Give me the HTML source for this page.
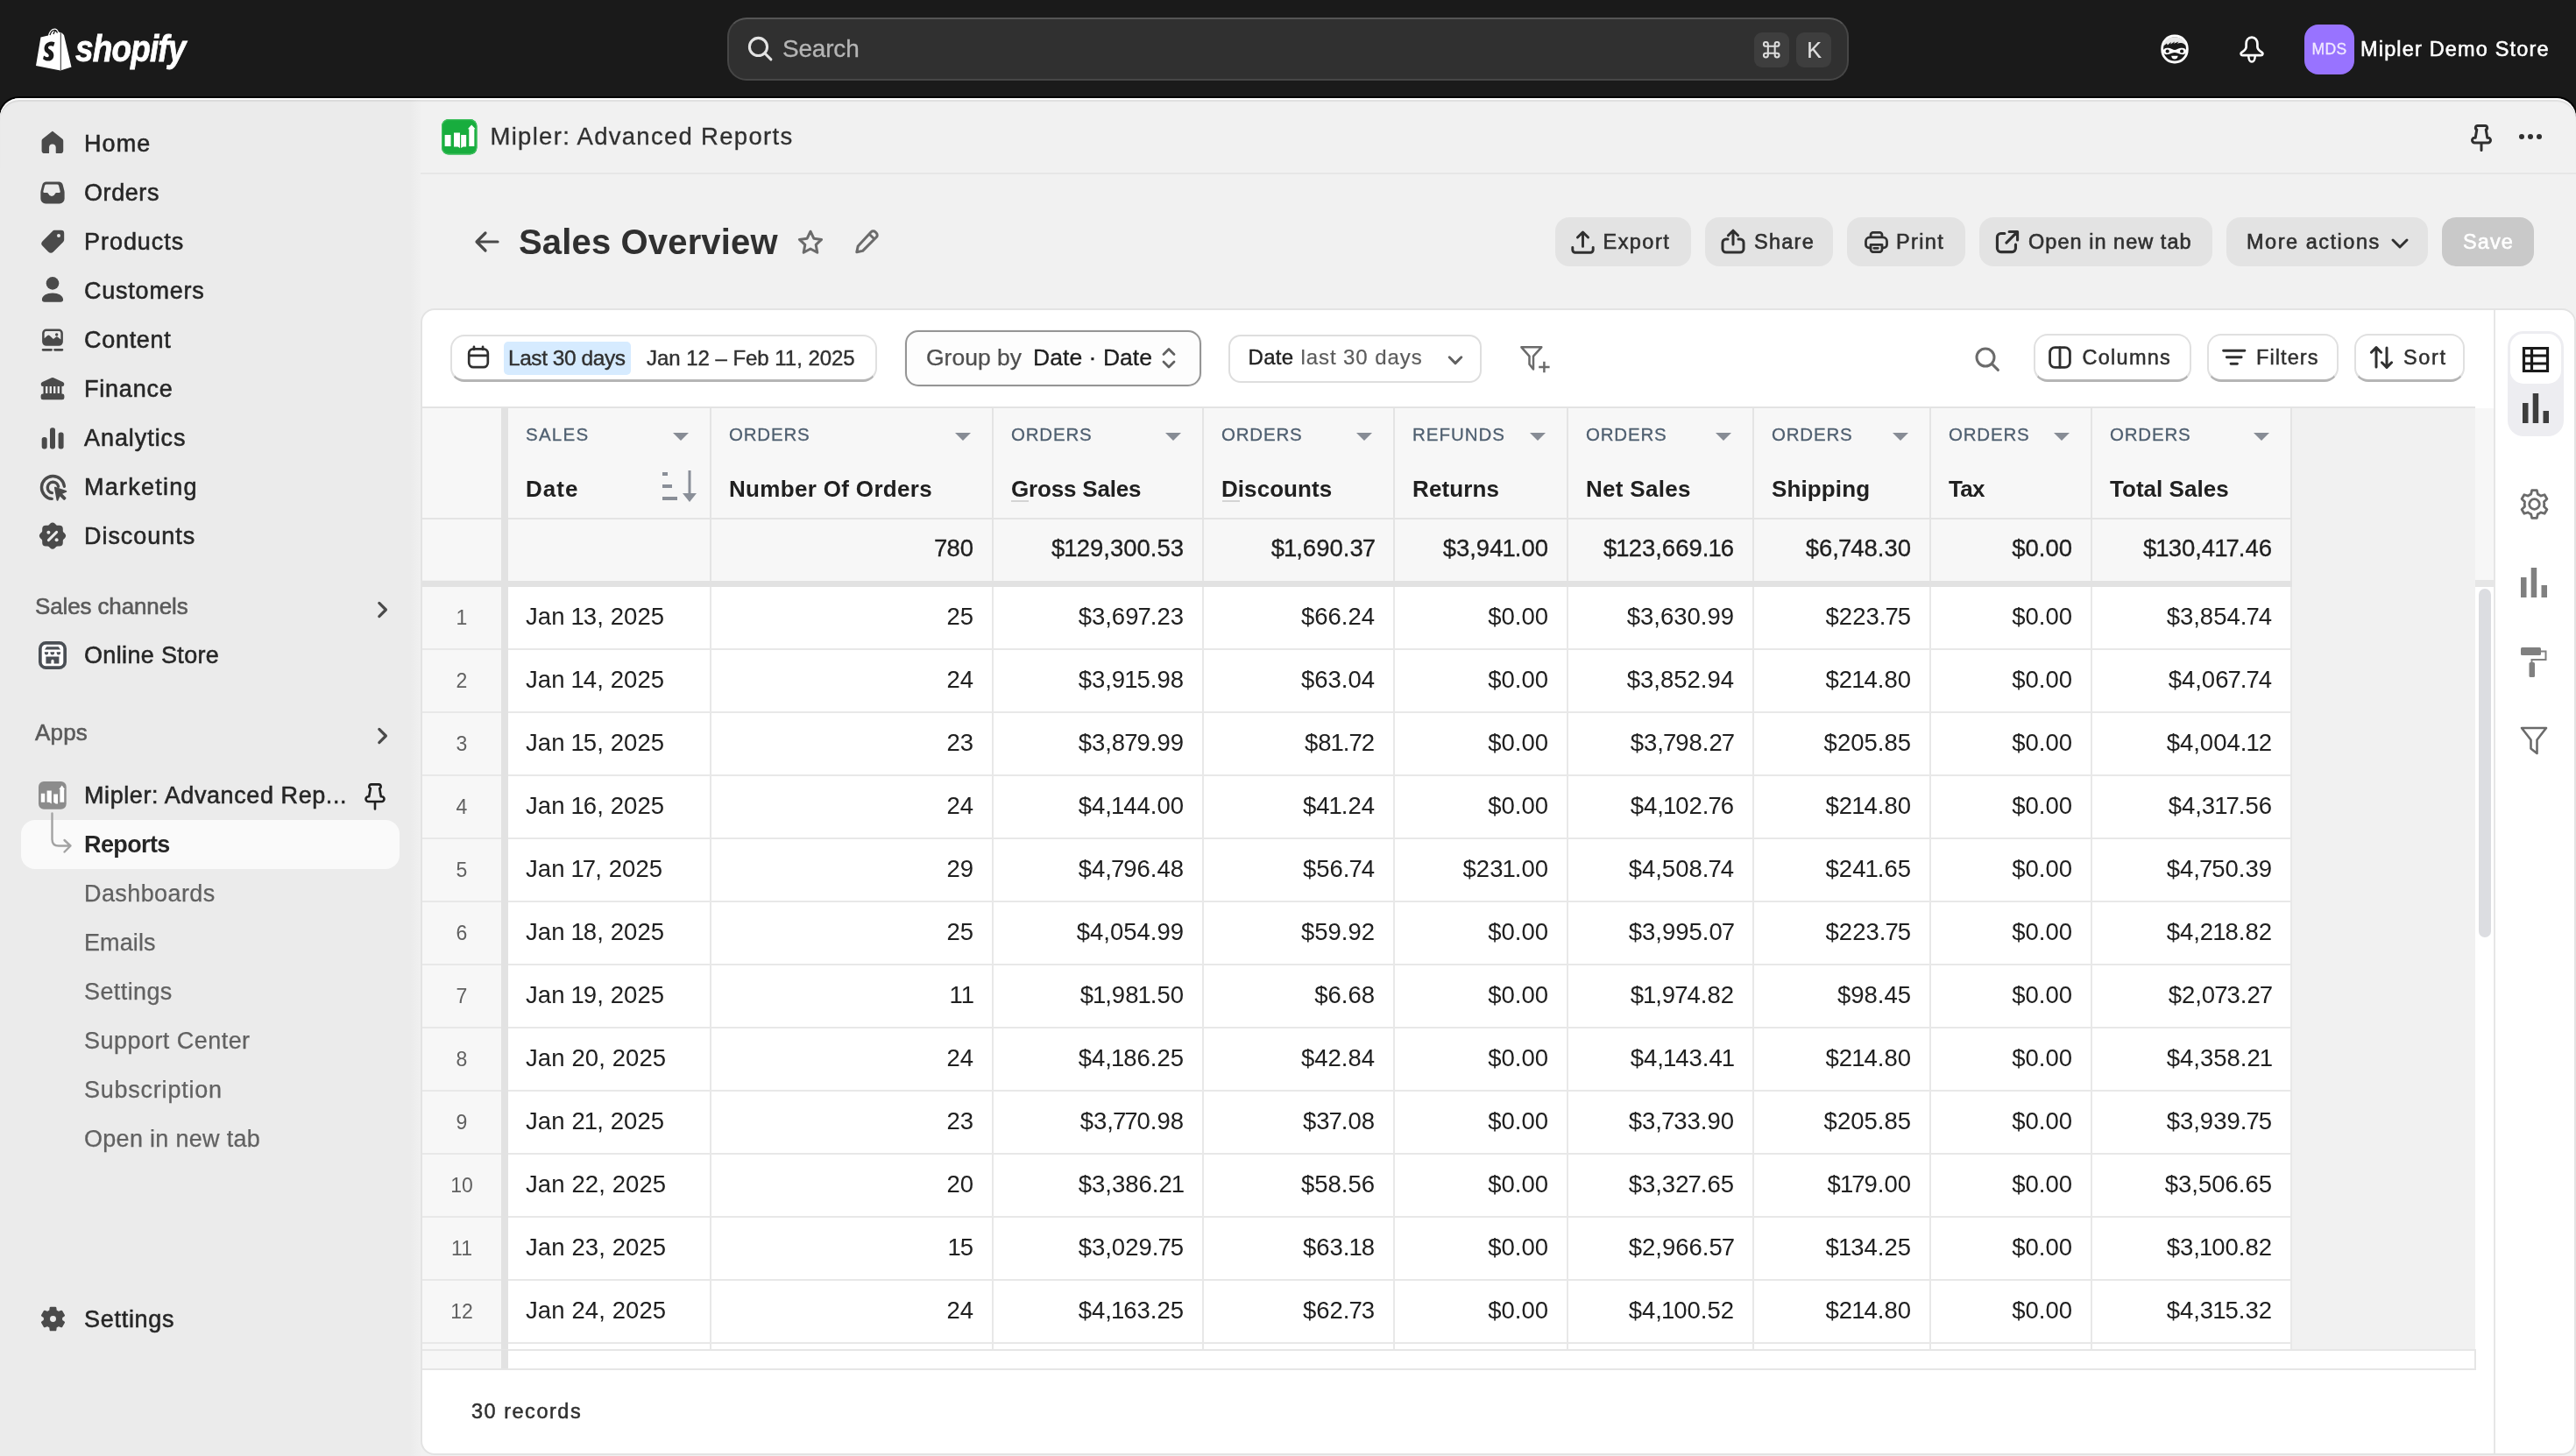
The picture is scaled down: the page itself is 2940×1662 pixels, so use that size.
<!DOCTYPE html>
<html><head><meta charset="utf-8"><title>Sales Overview</title>
<style>
*{box-sizing:border-box;margin:0;padding:0}
html,body{width:2940px;height:1662px;overflow:hidden;background:#1a1a1a;font-family:"Liberation Sans",sans-serif;color:#303030}
@media (max-width:1600px){html{zoom:.5}}
.abs{position:absolute}
.t{white-space:nowrap;display:inline-block}
svg{display:block;overflow:visible}
#top{position:absolute;left:0;top:0;width:2940px;height:112px;background:#1a1a1a}
#frame{position:absolute;left:0;top:112px;width:2940px;height:1550px;background:#f1f1f1;border-radius:22px 22px 0 0;overflow:hidden;box-shadow:0 0 0 2px #000}
#side{position:absolute;left:0;top:0;width:480px;height:1550px;background:linear-gradient(90deg,#ebebeb 0,#ebebeb 468px,#f0f0f0 480px)}
.nav{height:40px;line-height:40px;font-size:27px;color:#262626;-webkit-text-stroke:.55px #262626}
.sub{height:40px;line-height:40px;font-size:27px;color:#616161;-webkit-text-stroke:.25px #616161}
.sec{height:36px;line-height:36px;font-size:26px;color:#5a5a5a;-webkit-text-stroke:.55px #5a5a5a}
.btn{position:absolute;top:248px;height:56px;border-radius:16px;background:#e3e3e3;font-size:23.5px;line-height:56px;color:#303030;-webkit-text-stroke:.6px #303030}
.tb{position:absolute;background:#fff;border-radius:16px;font-size:23.5px;color:#303030}
.hc{position:absolute;top:0;height:126px;border-right:2px solid #e4e4e4}
.hg{position:absolute;left:20px;top:18px;font-size:20.5px;line-height:24px;color:#4f5f70;-webkit-text-stroke:.3px #4f5f70}
.hl{position:absolute;left:20px;top:74.5px;font-size:26px;line-height:34px;color:#202020;font-weight:bold}
.tri{position:absolute;top:28px;width:0;height:0;border-left:9.5px solid transparent;border-right:9.5px solid transparent;border-top:9.5px solid #878c95}
.row{position:absolute;left:0;height:72px;width:2132px}
.c{position:absolute;top:0;height:72px;border-right:2px solid #e8e8e8;border-bottom:2px solid #e8e8e8;background:#fff;font-size:27.5px;line-height:68.5px;color:#202020;text-align:right;padding:0 21px 0 0;white-space:nowrap}
.c i{font-style:normal;margin:0 -1px}
.c.l{text-align:left;padding:0 0 0 20px;letter-spacing:.1px}
.tot .c{background:#f7f7f7;border-bottom:none;-webkit-text-stroke:.3px #202020;height:71px;line-height:66.5px;border-right-color:#e4e4e4}
.rn{position:absolute;left:0;width:90px;height:72px;background:#f7f7f7;border-bottom:2px solid #e8e8e8;font-size:23px;line-height:70px;color:#616161;text-align:center}
</style></head><body style="will-change:transform">

<div id="top">
<svg class="abs" style="left:40px;top:31px" width="42" height="50" viewBox="0 0 42 50" ><path d="M6.5 11.5 L15 9.5 C16 5 19 1.5 22.5 1.5 C24.5 1.5 26 3 27 5.5 L30.5 6.5 L33 9 L41.5 45.5 L29 49.5 L1 44 Z" fill="#fff"/>
<path d="M29.3 6.2 V49.3" stroke="#1a1a1a" stroke-width="0.9"/>
<path d="M17 9 C18 5.5 20 3.3 22.4 3.3 C23.8 3.3 24.8 4.6 25.4 6.6 M21 8 C21.6 5.4 22.8 4.2 24 4.2" fill="none" stroke="#1a1a1a" stroke-width="1.3"/>
<path d="M22.5 17.5 L21 22 C20 21.5 18.8 21.2 17.6 21.3 C15 21.5 15 23.1 15 23.5 C15.2 25.7 21 26.2 21.3 31.4 C21.6 35.5 19.1 38.3 15.6 38.5 C11.4 38.8 9.1 36.3 9.1 36.3 L10 32.5 C10 32.500 12.3 34.3 14.200 34.200 C15.400 34.100 15.9 33.100 15.800 32.400 C15.600 29.500 10.900 29.700 10.600 25 C10.300 21 12.900 17 18.700 16.600 C21 16.500 22.500 17.500 22.500 17.500 Z" fill="#1a1a1a"/></svg>
<div class="abs" style="left:86px;top:29px;font-size:43px;line-height:52px;font-weight:bold;font-style:italic;color:#fff;letter-spacing:-1px;transform:scaleX(.86);transform-origin:0 0;-webkit-text-stroke:.8px #fff"><span class="t" id="shopify">shopify</span></div>
<div class="abs" style="left:830px;top:20px;width:1280px;height:72px;border-radius:22px;background:#303030;border:2px solid #464646;border-top-color:#555"></div>
<svg class="abs" style="left:850px;top:38px" width="36" height="36" viewBox="0 0 20 20" ><circle cx="8.6" cy="8.6" r="5.6" fill="none" stroke="#e3e3e3" stroke-width="1.7"/><path d="M12.8 12.8 16.6 16.6" stroke="#e3e3e3" stroke-width="1.7" stroke-linecap="round"/></svg>
<div class="abs" style="left:893px;top:36px;font-size:28px;line-height:40px;color:#b5b5b5;-webkit-text-stroke:.3px #b5b5b5"><span class="t " id="search" style=";letter-spacing:-0.200px">Search</span></div>
<div class="abs" style="left:2001.5px;top:36.7px;width:40px;height:40.5px;border-radius:9px;background:#3e3e3e"></div>
<div class="abs" style="left:2050px;top:36.7px;width:40px;height:40.5px;border-radius:9px;background:#3e3e3e"></div>
<svg class="abs" style="left:2010.4px;top:44.6px" width="23.5" height="23.5" viewBox="0 0 24 24" ><path d="M8 8V5.5A2.5 2.5 0 1 0 5.500 8H8ZM8 8H16M8 8V16M16 8H18.500A2.500 2.500 0 1 0 16 5.500V8ZM16 8V16M16 16H8M16 16V18.500A2.500 2.500 0 1 0 18.500 16H16ZM8 16H5.500A2.500 2.500 0 1 0 8 18.500V16Z" fill="none" stroke="#dcdcdc" stroke-width="2.1"/></svg>
<div class="abs" style="left:2050px;top:37px;width:41px;height:40px;line-height:40px;text-align:center;font-size:25px;color:#e0e0e0;-webkit-text-stroke:.2px #e0e0e0">K</div>
<svg class="abs" style="left:2466px;top:39px" width="32" height="34" viewBox="0 0 32 34" ><rect x="1.700" y="2" width="28.600" height="30" rx="13.600" ry="14.300" fill="#1a1a1a" stroke="#fff" stroke-width="2.800"/>
<path d="M3.200 13.500C3.500 7 9 3.200 16 3.200C23 3.200 28.500 7 28.800 13.500L27 11.600C24.500 9.800 21.500 9.800 18.800 10.700L20.500 8.600L15 10.800L16 8.400L11.300 11.400L11.800 9L7.800 12.600L7 10.600Z" fill="#e8e8e8"/>
<path d="M2.800 19.400C2.800 16.200 6 15.200 9 15.800C12 16.400 14 18 16 18C18 18 20 16.400 23 15.800C26 15.200 29.200 16.200 29.200 19.400C29.200 22.600 26.500 23.600 23.500 23C20.500 22.400 18.500 21 16 21C13.500 21 11.500 22.400 8.500 23C5.500 23.600 2.800 22.600 2.800 19.400Z" fill="#fff"/>
<circle cx="7.700" cy="19.500" r="2.100" fill="#1a1a1a"/><circle cx="24.100" cy="19.500" r="2.100" fill="#1a1a1a"/>
<path d="M12.200 24.800H19.600C19.600 27 18 28.600 15.900 28.600C13.800 28.600 12.200 27 12.200 24.800Z" fill="#fff"/></svg>
<svg class="abs" style="left:2555px;top:41px" width="30" height="32" viewBox="0 0 30 32" ><path d="M15 1.600C10.800 1.600 8.600 5 8.600 9V12.500C8.600 15.500 6 17 3.600 18.600C1.600 20 2.600 22.200 4.600 22.200H25.400C27.400 22.200 28.400 20 26.400 18.600C24 17 21.400 15.500 21.400 12.500V9C21.400 5 19.200 1.600 15 1.600Z" fill="none" stroke="#fff" stroke-width="2.700" stroke-linejoin="round"/><path d="M11.300 23C11.300 27 13 29.500 15 29.500C17 29.500 18.700 27 18.700 23" fill="none" stroke="#fff" stroke-width="2.500"/></svg>
<div class="abs" style="left:2630px;top:27.500px;width:57px;height:57px;border-radius:16px;background:#9873ff;color:#f1e9ff;font-size:17.5px;line-height:57px;text-align:center;-webkit-text-stroke:.3px #f1e9ff;letter-spacing:.3px">MDS</div>
<div class="abs" style="left:2694px;top:36px;font-size:23.5px;line-height:40px;color:#fff;-webkit-text-stroke:.55px #fff"><span class="t " id="store" style=";letter-spacing:1.169px">Mipler Demo Store</span></div>
</div>
<div id="frame">
<div id="side">
<svg class="abs" style="left:40px;top:31.5px" width="40" height="40" viewBox="0 0 20 20" ><path transform="translate(9.95 9.2) scale(.85) translate(-10 -9.8)" d="M10 2.9 16.3 7.9a1.2 1.2 0 0 1 .45.95v6.4a1.5 1.5 0 0 1-1.5 1.5h-2.5v-3.5a2.75 2.75 0 0 0-5.5 0v3.5h-2.5a1.5 1.5 0 0 1-1.5-1.5v-6.4a1.2 1.2 0 0 1 .45-.95z" fill="#4a4a4a" stroke="#4a4a4a" stroke-width="1" stroke-linejoin="round"/></svg><div class="abs nav" style="left:96px;top:31.5px"><span class="t " id="nav_home" style=";letter-spacing:1.100px">Home</span></div>
<svg class="abs" style="left:40px;top:87.5px" width="40" height="40" viewBox="0 0 20 20" ><path transform="translate(10 10) scale(.96) translate(-10 -10)" fill-rule="evenodd" d="M6.3 3.500h7.400a2.500 2.500 0 0 1 2.400 1.850l.85 3.300c.1.400.15.800.15 1.200v3.650a3 3 0 0 1-3 3h-8.200a3 3 0 0 1-3-3v-3.650c0-.4.050-.8.150-1.200l.85-3.300a2.500 2.500 0 0 1 2.400-1.850zM6.300 5a1 1 0 0 0-.950.740l-.900 3.500c-.1.400.15.760.550.760h1.600c.45 0 .8.300.950.700a2.050 2.050 0 0 0 3.900 0c.150-.4.500-.7.950-.7h1.600c.4 0 .65-.36.550-.76l-.9-3.500a1 1 0 0 0-.950-.740z" fill="#4a4a4a"/></svg><div class="abs nav" style="left:96px;top:87.5px"><span class="t " id="nav_orders" style=";letter-spacing:0.580px">Orders</span></div>
<svg class="abs" style="left:40px;top:143.5px" width="40" height="40" viewBox="0 0 20 20" ><path fill-rule="evenodd" d="M11.4 3.4h3.5a1.7 1.7 0 0 1 1.7 1.7v3.5c0 .6-.24 1.2-.67 1.6l-5.5 5.5a2 2 0 0 1-2.83 0l-3.3-3.3a2 2 0 0 1 0-2.83l5.5-5.5c.43-.43 1-.67 1.6-.67zm2.1 2.1a1 1 0 1 0 0 2 1 1 0 0 0 0-2z" fill="#4a4a4a"/></svg><div class="abs nav" style="left:96px;top:143.5px"><span class="t " id="nav_products" style=";letter-spacing:0.957px">Products</span></div>
<svg class="abs" style="left:40px;top:199.5px" width="40" height="40" viewBox="0 0 20 20" ><circle cx="10" cy="5.7" r="3.65" fill="#4a4a4a"/><path d="M3.95 15.1c0-2.3 2.7-3.85 6.050-3.850s6.050 1.550 6.050 3.850c0 .75-.6 1.25-1.4 1.25h-9.3c-.8 0-1.4-.5-1.4-1.25z" fill="#4a4a4a"/></svg><div class="abs nav" style="left:96px;top:199.5px"><span class="t " id="nav_customers" style=";letter-spacing:0.775px">Customers</span></div>
<svg class="abs" style="left:40px;top:255.5px" width="40" height="40" viewBox="0 0 20 20" ><g transform="translate(10 9.6) scale(.9 .93) translate(-10 -9.6)"><path fill-rule="evenodd" d="M6 3.3h8a2.6 2.6 0 0 1 2.6 2.6v5.2a2.6 2.6 0 0 1-2.6 2.6h-8a2.6 2.6 0 0 1-2.6-2.6v-5.2a2.6 2.6 0 0 1 2.6-2.6zm0 1.4a1.2 1.2 0 0 0-1.2 1.2v3.2l2-1.7a1 1 0 0 1 1.3 0l2.4 2.1 1.6-1.2a1 1 0 0 1 1.2 0l1.9 1.5v-3.9a1.2 1.2 0 0 0-1.2-1.2zm6.6 1.2a.95.95 0 1 0 0 1.9.95.95 0 0 0 0-1.9z" fill="#4a4a4a"/><path d="M3.9 16.1h5.300M11.400 16.100h4.700" stroke="#4a4a4a" stroke-width="1.500" stroke-linecap="round"/></g></svg><div class="abs nav" style="left:96px;top:255.5px"><span class="t " id="nav_content" style=";letter-spacing:0.700px">Content</span></div>
<svg class="abs" style="left:40px;top:311.5px" width="40" height="40" viewBox="0 0 20 20" ><g transform="translate(0 .55) scale(1 .93)"><path d="M9.4 3.3a1.4 1.4 0 0 1 1.2 0l5.2 2.5c.5.25.8.7.8 1.25v.55a.9.9 0 0 1-.9.9h-.45v4.6h.25a1.2 1.2 0 0 1 1.2 1.2v1.2a1.2 1.2 0 0 1-1.2 1.2h-11a1.2 1.2 0 0 1-1.2-1.2v-1.2a1.2 1.2 0 0 1 1.2-1.2h.25v-4.6h-.45a.9.9 0 0 1-.9-.9v-.55c0-.55.3-1 .8-1.25z" fill="#4a4a4a"/><path d="M6.6 8.6v4.3M8.9 8.6v4.3M11.1 8.6v4.3M13.4 8.6v4.3" stroke="#ebebeb" stroke-width="1.15"/></g></svg><div class="abs nav" style="left:96px;top:311.5px"><span class="t " id="nav_finance" style=";letter-spacing:0.783px">Finance</span></div>
<svg class="abs" style="left:40px;top:367.5px" width="40" height="40" viewBox="0 0 20 20" ><rect x="3.85" y="9.5" width="3" height="6.7" rx="1.3" fill="#4a4a4a"/><rect x="8.5" y="4.1" width="3" height="12.1" rx="1.3" fill="#4a4a4a"/><rect x="13.3" y="6.7" width="3" height="9.5" rx="1.3" fill="#4a4a4a"/></svg><div class="abs nav" style="left:96px;top:367.5px"><span class="t " id="nav_analytics" style=";letter-spacing:0.938px">Analytics</span></div>
<svg class="abs" style="left:40px;top:423.5px" width="40" height="40" viewBox="0 0 20 20" ><g transform="translate(.4 .4)"><path d="M16.3 9.2a6.5 6.5 0 1 0-7.1 7.1" fill="none" stroke="#4a4a4a" stroke-width="1.7" stroke-linecap="round"/><path d="M12.9 9.3a3.1 3.1 0 1 0-3.6 3.6" fill="none" stroke="#4a4a4a" stroke-width="1.7" stroke-linecap="round"/><path d="M10.6 10.1a.5.5 0 0 1 .6-.6l6.2 2.1a.5.5 0 0 1 .05.92l-2.3 1 2 2a.6.6 0 0 1 0 .85l-.5.5a.6.6 0 0 1-.85 0l-2-2-1 2.3a.5.5 0 0 1-.92-.05z" fill="#4a4a4a"/></svg><div class="abs nav" style="left:96px;top:423.5px"><span class="t " id="nav_marketing" style=";letter-spacing:1.250px">Marketing</span></div>
<svg class="abs" style="left:40px;top:479.5px" width="40" height="40" viewBox="0 0 20 20" ><path d="M8.6 2.9a2 2 0 0 1 2.8 0l.7.7c.2.2.5.3.8.3h1a2 2 0 0 1 2 2v1c0 .3.1.6.3.8l.7.7a2 2 0 0 1 0 2.8l-.7.7c-.2.2-.3.5-.3.8v1a2 2 0 0 1-2 2h-1c-.3 0-.6.1-.8.3l-.7.7a2 2 0 0 1-2.8 0l-.7-.7a1.1 1.1 0 0 0-.8-.3h-1a2 2 0 0 1-2-2v-1c0-.3-.1-.6-.3-.8l-.7-.7a2 2 0 0 1 0-2.8l.7-.7c.2-.2.3-.5.3-.8v-1a2 2 0 0 1 2-2h1c.3 0 .6-.1.8-.3z" fill="#4a4a4a"/><path d="M7.7 12.3l4.6-4.6" stroke="#ebebeb" stroke-width="1.5" stroke-linecap="round"/><circle cx="7.7" cy="7.9" r="1" fill="#ebebeb"/><circle cx="12.3" cy="12.1" r="1" fill="#ebebeb"/></svg><div class="abs nav" style="left:96px;top:479.5px"><span class="t " id="nav_discounts" style=";letter-spacing:0.950px">Discounts</span></div>
<div class="abs sec" style="left:40px;top:562px"><span class="t " id="sec_sc" style=";letter-spacing:-0.131px">Sales channels</span></div>
<svg class="abs" style="left:416px;top:564px" width="40" height="40" viewBox="0 0 20 20" ><path d="M8.400 6.200 12.200 10 8.400 13.800" fill="none" stroke="#4a4a4a" stroke-width="1.6" stroke-linecap="round" stroke-linejoin="round"/></svg>
<svg class="abs" style="left:44px;top:620px" width="32" height="32" viewBox="0 0 32 32" ><rect x="1.850" y="1.850" width="28.300" height="28.300" rx="6.500" fill="#fff" stroke="#4a4f55" stroke-width="3.700"/>
<path d="M9.300 6.200H22.700L25 9.600H7Z" fill="#4a4f55"/>
<path d="M6.800 12.300H11.200A2.200 3.300 0 0 1 6.800 12.300ZM13.400 12.300H18.200A2.400 3.300 0 0 1 13.400 12.300ZM20.600 12.300H25.200A2.300 3.300 0 0 1 20.600 12.300Z" fill="#4a4f55"/>
<path d="M8.400 17.600H23.400V25.600H17.600V22.300A1.600 1.600 0 0 0 14.400 22.300V25.600H8.400Z" fill="#4a4f55"/></svg>
<div class="abs nav" style="left:96px;top:616px"><span class="t " id="nav_os" style=";letter-spacing:0.345px">Online Store</span></div>
<div class="abs sec" style="left:40px;top:706px"><span class="t " id="sec_apps" style=";letter-spacing:0.167px">Apps</span></div>
<svg class="abs" style="left:416px;top:708px" width="40" height="40" viewBox="0 0 20 20" ><path d="M8.400 6.200 12.200 10 8.400 13.800" fill="none" stroke="#4a4a4a" stroke-width="1.6" stroke-linecap="round" stroke-linejoin="round"/></svg>
<svg class="abs" style="left:44px;top:780px" width="32" height="32" viewBox="0 0 32 32" ><rect width="31.700" height="31.700" rx="6" fill="#8c8c8c"/><path d="M2.800 13.700H7.200V23.700H2.800ZM9.600 10.600H14.800V25.400L12.200 23.700H9.600ZM17.200 14.400H22V25.400H19.600L17.200 23.700ZM24.400 9H23.300L26.700 4.500 30 9H29.200V23.700H24.400Z" fill="#fff"/></svg>
<div class="abs nav" style="left:96px;top:776px"><span class="t " id="nav_mip" style=";letter-spacing:0.586px">Mipler: Advanced Rep...</span></div>
<svg class="abs" style="left:408px;top:776px" width="40" height="40" viewBox="0 0 20 20" ><path d="M7.9 3.7h4.200a1.200 1.200 0 0 1 .5 2.300l.8 4.600h.4a1.450 1.450 0 0 1 0 2.900h-7.600a1.450 1.450 0 0 1 0-2.900h.4l.8-4.600a1.200 1.200 0 0 1 .5-2.300zM10 13.700v4" fill="none" stroke="#1f1f1f" stroke-width="1.300" stroke-linecap="round" stroke-linejoin="round"/></svg>
<div class="abs" style="left:24px;top:824px;width:432px;height:56px;border-radius:16px;background:#fafafa"></div>
<svg class="abs" style="left:40px;top:814px" width="60" height="60" viewBox="0 0 60 60" ><path d="M19.500 2.500V32C19.500 37 22 39.500 27 39.500H40M33.500 33 40.500 39.500 33.500 46.500" fill="none" stroke="#a3a3a3" stroke-width="2.400" stroke-linecap="round" stroke-linejoin="round"/></svg>
<div class="abs nav" style="left:96px;top:832px;font-weight:bold;-webkit-text-stroke:0"><span class="t " id="nav_rep" style=";letter-spacing:-0.617px">Reports</span></div>
<div class="abs sub" style="left:96px;top:888px"><span class="t " id="sub0" style=";letter-spacing:0.411px">Dashboards</span></div>
<div class="abs sub" style="left:96px;top:944px"><span class="t " id="sub1" style=";letter-spacing:0.100px">Emails</span></div>
<div class="abs sub" style="left:96px;top:1000px"><span class="t " id="sub2" style=";letter-spacing:0.400px">Settings</span></div>
<div class="abs sub" style="left:96px;top:1056px"><span class="t " id="sub3" style=";letter-spacing:0.462px">Support Center</span></div>
<div class="abs sub" style="left:96px;top:1112px"><span class="t " id="sub4" style=";letter-spacing:0.764px">Subscription</span></div>
<div class="abs sub" style="left:96px;top:1168px"><span class="t " id="sub5" style=";letter-spacing:0.300px">Open in new tab</span></div>
<svg class="abs" style="left:39.5px;top:1373.0px" width="41" height="41" viewBox="0 0 20 20" ><path fill-rule="evenodd" d="M11.55 5.51L11.32 3.79L8.68 3.79L8.45 5.51L6.88 6.42L5.28 5.75L3.96 8.04L5.34 9.09L5.34 10.91L3.96 11.96L5.28 14.25L6.88 13.58L8.45 14.49L8.68 16.21L11.32 16.21L11.55 14.49L13.12 13.58L14.72 14.25L16.04 11.96L14.66 10.91L14.66 9.09L16.04 8.04L14.72 5.75L13.12 6.42ZM10 7.750a2.250 2.250 0 1 0 0 4.500a2.250 2.250 0 0 0 0-4.500z" fill="#4a4a4a" stroke="#4a4a4a" stroke-width="1.100" stroke-linejoin="round"/></svg>
<div class="abs nav" style="left:96px;top:1374px"><span class="t " id="nav_set" style=";letter-spacing:0.714px">Settings</span></div>
</div>
<div class="abs" style="left:480px;top:0;width:2460px;height:87px;border-bottom:2px solid #e6e6e6"></div>
<svg class="abs" style="left:504px;top:23.5px" width="40.5" height="40.5" viewBox="0 0 40 40" ><rect width="40" height="40" rx="8" fill="#18ad3e"/><rect x=".6" y=".6" width="38.800" height="38.800" rx="7.500" fill="none" stroke="#3fbf5e" stroke-width="1.200"/><path d="M3.600 17.900H10.400V30.700H3.600ZM13.800 15.400H20.700V32.600L18.400 31H13.800ZM21.900 17.900H27.800V31H24.200L21.900 32.600ZM30.900 11.100H29.500L33.800 6.300 38.100 11.100H36.900V30.700H30.900Z" fill="#fff"/></svg>
<div class="abs" style="left:559.5px;top:24px;font-size:27.5px;line-height:40px;color:#303030;-webkit-text-stroke:.3px #303030"><span class="t " id="apptitle" style=";letter-spacing:1.296px">Mipler: Advanced Reports</span></div>
<svg class="abs" style="left:2812px;top:24px" width="40" height="40" viewBox="0 0 20 20" ><path d="M7.9 3.7h4.200a1.200 1.200 0 0 1 .5 2.300l.8 4.600h.4a1.450 1.450 0 0 1 0 2.900h-7.600a1.450 1.450 0 0 1 0-2.900h.4l.8-4.600a1.200 1.200 0 0 1 .5-2.300zM10 13.700v4" fill="none" stroke="#303030" stroke-width="1.5" stroke-linecap="round" stroke-linejoin="round"/></svg>
<svg class="abs" style="left:2868px;top:24px" width="40" height="40" viewBox="0 0 20 20" ><circle cx="5" cy="10" r="1.500" fill="#303030"/><circle cx="10" cy="10" r="1.500" fill="#303030"/><circle cx="15" cy="10" r="1.500" fill="#303030"/></svg>
<svg class="abs" style="left:536px;top:144px" width="40" height="40" viewBox="0 0 20 20" ><path d="M16 10H4.500M9 5 4 10 9 15" fill="none" stroke="#4a4a4a" stroke-width="1.6" stroke-linecap="round" stroke-linejoin="round"/></svg>
<div class="abs" style="left:592px;top:138px;font-size:40px;line-height:52px;font-weight:bold;color:#303030"><span class="t " id="title" style=";letter-spacing:0.154px">Sales Overview</span></div>
<svg class="abs" style="left:905px;top:145px" width="40" height="40" viewBox="0 0 20 20" ><path d="M10 3.600 11.900 7.600 16.300 8.200 13.100 11.200 13.900 15.600 10 13.500 6.100 15.600 6.900 11.200 3.700 8.200 8.100 7.600Z" fill="none" stroke="#6b6b6b" stroke-width="1.500" stroke-linejoin="round"/></svg>
<svg class="abs" style="left:969px;top:144px" width="40" height="40" viewBox="0 0 20 20" ><path d="M12.600 4.400A1.700 1.700 0 0 1 15 4.400L15.600 5A1.700 1.700 0 0 1 15.600 7.400L7.800 15.200 4.400 15.900 5.100 12.500ZM11.600 5.600 14.400 8.400" fill="none" stroke="#6b6b6b" stroke-width="1.500" stroke-linejoin="round" stroke-linecap="round"/></svg>
<div class="btn" style="left:1774.5px;top:136px;width:155px"><svg class="abs" style="left:12px;top:8.5px" width="39" height="39" viewBox="0 0 20 20" ><path d="M10 12.500V4.300M6.900 7.200 10 4.100 13.100 7.200M4 13V14.500A1.500 1.500 0 0 0 5.500 16H14.500A1.500 1.500 0 0 0 16 14.500V13" fill="none" stroke="#303030" stroke-width="1.5" stroke-linecap="round" stroke-linejoin="round"/></svg><div class="abs" style="left:55px;top:0"><span class="t " id="b_exp" style=";letter-spacing:1.460px">Export</span></div></div>
<div class="btn" style="left:1946px;top:136px;width:145.5px"><svg class="abs" style="left:12px;top:8.0px" width="40" height="40" viewBox="0 0 20 20" ><path d="M10 11.500V3.800M7.200 6.400 10 3.600 12.800 6.400M7 8.500H6A2 2 0 0 0 4 10.500V14A2 2 0 0 0 6 16H14A2 2 0 0 0 16 14V10.500A2 2 0 0 0 14 8.500H13" fill="none" stroke="#303030" stroke-width="1.5" stroke-linecap="round" stroke-linejoin="round"/></svg><div class="abs" style="left:56px;top:0"><span class="t " id="b_shr" style=";letter-spacing:1.250px">Share</span></div></div>
<div class="btn" style="left:2108px;top:136px;width:135px"><svg class="abs" style="left:14.5px;top:9.5px" width="37" height="37" viewBox="0 0 20 20" ><path d="M6.500 7V5.500A1.500 1.500 0 0 1 8 4H12A1.500 1.500 0 0 1 13.500 5.500V7M6.500 13.500H5.500A2 2 0 0 1 3.500 11.500V9.500A2.500 2.500 0 0 1 6 7H14A2.500 2.500 0 0 1 16.500 9.500V11.500A2 2 0 0 1 14.500 13.500H13.500M6.500 11.500H13.500V14.500A1.500 1.500 0 0 1 12 16H8A1.500 1.500 0 0 1 6.500 14.500ZM8.500 13.700H11" fill="none" stroke="#303030" stroke-width="1.5" stroke-linecap="round" stroke-linejoin="round"/></svg><div class="abs" style="left:56px;top:0"><span class="t " id="b_prt" style=";letter-spacing:1.350px">Print</span></div></div>
<div class="btn" style="left:2259px;top:136px;width:266px"><svg class="abs" style="left:10.5px;top:7.0px" width="42" height="42" viewBox="0 0 20 20" ><path d="M11 4.500H15.500V9M15.300 4.700 9.500 10.500M8.500 5.500H6.500A2 2 0 0 0 4.500 7.500V13.500A2 2 0 0 0 6.500 15.500H12.500A2 2 0 0 0 14.500 13.500V11.500" fill="none" stroke="#303030" stroke-width="1.5" stroke-linecap="round" stroke-linejoin="round"/></svg><div class="abs" style="left:56px;top:0"><span class="t " id="b_opn" style=";letter-spacing:1.029px">Open in new tab</span></div></div>
<div class="btn" style="left:2541px;top:136px;width:230px"><div class="abs" style="left:23px;top:0"><span class="t " id="b_more" style=";letter-spacing:1.518px">More actions</span></div><svg class="abs" style="left:178px;top:9px" width="40" height="40" viewBox="0 0 20 20" ><path d="M6 8.500 10 12.500 14 8.500" fill="none" stroke="#303030" stroke-width="1.5" stroke-linecap="round" stroke-linejoin="round"/></svg></div>
<div class="btn" style="left:2787px;top:136px;width:105px;background:#c9c9c9;color:#fff;-webkit-text-stroke-color:#fff"><div class="abs" style="left:24px;top:0"><span class="t " id="b_save" style=";letter-spacing:1.067px">Save</span></div></div>
<div class="abs" id="card" style="left:480px;top:240px;width:2460px;height:1309px;border-radius:16px;background:#fff;border:2px solid #e3e3e3;overflow:hidden">
<div class="tb" style="left:32px;top:28px;width:487px;height:54px;border:2px solid #e0e0e0;border-bottom:3px solid #b5b5b5;border-radius:16px"></div>
<svg class="abs" style="left:46px;top:36px" width="36" height="36" viewBox="0 0 20 20" ><rect x="4" y="4.600" width="12" height="11.600" rx="2.800" fill="none" stroke="#303030" stroke-width="1.500"/><path d="M4.200 8.800H15.800M7.200 3.200V5M12.800 3.200V5" stroke="#303030" stroke-width="1.500" stroke-linecap="round"/></svg>
<div class="abs" style="left:93px;top:36px;width:145px;height:38px;border-radius:5px;background:#d6ebff"></div>
<div class="abs" style="left:98px;top:36px;font-size:24.5px;line-height:38px;color:#303030;-webkit-text-stroke:.4px #303030"><span class="t " id="d_last" style=";letter-spacing:-0.455px">Last 30 days</span></div>
<div class="abs" style="left:256px;top:35px;font-size:24px;line-height:40px;color:#303030;-webkit-text-stroke:.4px #303030"><span class="t " id="d_range" style=";letter-spacing:-0.035px">Jan 12 – Feb 11, 2025</span></div>
<div class="tb" style="left:551px;top:23px;width:338px;height:64px;border:2px solid #959595;border-radius:15px;background:#fdfdfd;box-shadow:0 0 0 1px rgba(0,0,0,.04)"></div>
<div class="abs" style="left:575px;top:34px;font-size:26.5px;line-height:40px;color:#4f4f4f;-webkit-text-stroke:.25px #4f4f4f"><span class="t " id="g_by" style=";letter-spacing:0.000px">Group by</span></div>
<div class="abs" style="left:697px;top:34px;font-size:26.5px;line-height:40px;color:#1f1f1f;-webkit-text-stroke:.35px #1f1f1f"><span class="t " id="g_dd" style=";letter-spacing:0.050px">Date · Date</span></div>
<svg class="abs" style="left:832px;top:34px" width="40" height="40" viewBox="0 0 20 20" ><path d="M7 8.200 10 5.200 13 8.200M7 12.500 10 15.500 13 12.500" fill="none" stroke="#616161" stroke-width="1.400" stroke-linecap="round" stroke-linejoin="round"/></svg>
<div class="tb" style="left:920px;top:28px;width:289px;height:54.500px;border:2px solid #dedede;border-radius:14px"></div>
<div class="abs" style="left:942.5px;top:34px;font-size:24px;line-height:40px;color:#1f1f1f;-webkit-text-stroke:.4px #1f1f1f"><span class="t " id="f_date" style=";letter-spacing:0.333px">Date</span></div>
<div class="abs" style="left:1002.5px;top:34px;font-size:24px;line-height:40px;color:#5c5c5c;-webkit-text-stroke:.2px #5c5c5c"><span class="t " id="f_last" style=";letter-spacing:0.918px">last 30 days</span></div>
<svg class="abs" style="left:1159px;top:36.5px" width="40" height="40" viewBox="0 0 20 20" ><path d="M6.600 8.400 10 11.800 13.400 8.400" fill="none" stroke="#616161" stroke-width="1.500" stroke-linecap="round" stroke-linejoin="round"/></svg>
<svg class="abs" style="left:1249px;top:36px" width="40" height="40" viewBox="0 0 20 20" ><path d="M2.700 3.150H14.150L9.500 8.300V15.800L7.250 12.900V8.300Z" fill="none" stroke="#6b6b6b" stroke-width="1.250" stroke-linejoin="round"/><path d="M12.600 14.500H18.800M15.700 11.400V17.600" stroke="#6b6b6b" stroke-width="1.250"/></svg>
<svg class="abs" style="left:1766px;top:36px" width="40" height="40" viewBox="0 0 20 20" ><circle cx="9" cy="9" r="5" fill="none" stroke="#6b6b6b" stroke-width="1.500"/><path d="M12.800 12.800 16.200 16.200" stroke="#6b6b6b" stroke-width="1.500" stroke-linecap="round"/></svg>
<div class="tb" style="left:1838.5px;top:27px;width:180px;height:55px;border:2px solid #e0e0e0;border-bottom:3px solid #b5b5b5;border-radius:16px"><svg class="abs" style="left:9.5px;top:6.0px" width="38" height="38" viewBox="0 0 20 20" ><rect x="4" y="4" width="12" height="12" rx="3" fill="none" stroke="#303030" stroke-width="1.5" stroke-linecap="round" stroke-linejoin="round"/><path d="M10 4.200V15.800" fill="none" stroke="#303030" stroke-width="1.5" stroke-linecap="round" stroke-linejoin="round"/></svg><div class="abs" style="left:54px;top:5px;line-height:40px;-webkit-text-stroke:.5px #303030"><span class="t " id="t_col" style=";letter-spacing:1.267px">Columns</span></div></div>
<div class="tb" style="left:2037px;top:27px;width:149.5px;height:55px;border:2px solid #e0e0e0;border-bottom:3px solid #b5b5b5;border-radius:16px"><svg class="abs" style="left:10px;top:6.25px" width="37.5" height="37.5" viewBox="0 0 20 20" ><path d="M3.500 6H16.500M5.500 10H14.500M8 14H12" fill="none" stroke="#303030" stroke-width="1.5" stroke-linecap="round" stroke-linejoin="round"/></svg><div class="abs" style="left:54px;top:5px;line-height:40px;-webkit-text-stroke:.5px #303030"><span class="t " id="t_fil" style=";letter-spacing:1.083px">Filters</span></div></div>
<div class="tb" style="left:2205px;top:27px;width:125.5px;height:55px;border:2px solid #e0e0e0;border-bottom:3px solid #b5b5b5;border-radius:16px"><svg class="abs" style="left:9px;top:5.0px" width="40" height="40" viewBox="0 0 20 20" ><path d="M7 15.500V4.300M4.200 7.100 7 4.300 9.800 7.100M13 4.500V15.700M10.200 12.900 13 15.700 15.800 12.900" fill="none" stroke="#303030" stroke-width="1.5" stroke-linecap="round" stroke-linejoin="round"/></svg><div class="abs" style="left:54px;top:5px;line-height:40px;-webkit-text-stroke:.5px #303030"><span class="t " id="t_srt" style=";letter-spacing:1.633px">Sort</span></div></div>
<div class="abs" style="left:0px;top:110px;width:2343px;height:1077px;background:#f1f1f1;overflow:hidden;border-top:2px solid #e3e3e3">
<div class="abs" style="left:0;top:0;width:2134px;height:196px;background:#f7f7f7"></div>
<div class="abs" style="left:0;top:125px;width:2134px;height:2px;background:#e4e4e4"></div>
<div class="hc" style="left:98px;width:232px"><div class="hg"><span class="t " id="hg0" style=";letter-spacing:1.250px">SALES</span></div><div class="hl"><span class="t " id="hl0" style=";letter-spacing:1.000px">Date</span></div><div class="tri" style="right:24px"></div>
<svg class="abs" style="left:174px;top:70px" width="44" height="40" viewBox="0 0 44 40" ><path d="M2 5H8M2 19H13M2 33H19" stroke="#8a8f98" stroke-width="4"/><path d="M2 5H5M9 19H13" stroke="#f7f7f7" stroke-width="0"/><path d="M33 1V33" stroke="#8a8f98" stroke-width="3"/><path d="M25 27H41L33 37Z" fill="#8a8f98"/></svg>
</div>
<div class="hc" style="left:330px;width:322px"><div class="hg"><span class="t " id="hg1" style=";letter-spacing:0.800px">ORDERS</span></div><div class="hl"><span class="t " id="hl1" style=";letter-spacing:0.327px">Number Of Orders</span></div><div class="tri" style="right:24px"></div>
</div>
<div class="hc" style="left:652px;width:240px"><div class="hg"><span class="t " id="hg2" style=";letter-spacing:0.800px">ORDERS</span></div><div class="hl"><span class="t " id="hl2" style=";letter-spacing:-0.180px">Gross Sales</span></div><div class="tri" style="right:24px"></div>
</div>
<div class="hc" style="left:892px;width:218px"><div class="hg"><span class="t " id="hg3" style=";letter-spacing:0.800px">ORDERS</span></div><div class="hl"><span class="t " id="hl3" style=";letter-spacing:0.062px">Discounts</span></div><div class="tri" style="right:24px"></div>
</div>
<div class="hc" style="left:1110px;width:198px"><div class="hg"><span class="t " id="hg4" style=";letter-spacing:0.967px">REFUNDS</span></div><div class="hl"><span class="t " id="hl4" style=";letter-spacing:0.100px">Returns</span></div><div class="tri" style="right:24px"></div>
</div>
<div class="hc" style="left:1308px;width:212px"><div class="hg"><span class="t " id="hg5" style=";letter-spacing:0.800px">ORDERS</span></div><div class="hl"><span class="t " id="hl5" style=";letter-spacing:0.287px">Net Sales</span></div><div class="tri" style="right:24px"></div>
</div>
<div class="hc" style="left:1520px;width:202px"><div class="hg"><span class="t " id="hg6" style=";letter-spacing:0.800px">ORDERS</span></div><div class="hl"><span class="t " id="hl6" style=";letter-spacing:0.129px">Shipping</span></div><div class="tri" style="right:24px"></div>
</div>
<div class="hc" style="left:1722px;width:184px"><div class="hg"><span class="t " id="hg7" style=";letter-spacing:0.800px">ORDERS</span></div><div class="hl"><span class="t " id="hl7" style=";letter-spacing:-0.750px">Tax</span></div><div class="tri" style="right:24px"></div>
</div>
<div class="hc" style="left:1906px;width:228px"><div class="hg"><span class="t " id="hg8" style=";letter-spacing:0.800px">ORDERS</span></div><div class="hl"><span class="t " id="hl8" style=";letter-spacing:0.030px">Total Sales</span></div><div class="tri" style="right:24px"></div>
</div>
<div class="abs" style="left:672px;top:105px;width:20px;height:2px;background:#d4d4d4"></div>
<div class="abs" style="left:912.5px;top:105px;width:20px;height:2px;background:#d4d4d4"></div>
<div class="row tot" style="top:127px">
<div class="c" style="left:98px;width:232px"></div>
<div class="c" style="left:330px;width:322px"><i>7</i>80</div>
<div class="c" style="left:652px;width:240px">$<i>1</i>29,300.53</div>
<div class="c" style="left:892px;width:218px">$<i>1</i>,690.3<i>7</i></div>
<div class="c" style="left:1110px;width:198px">$3,94<i>1</i>.00</div>
<div class="c" style="left:1308px;width:212px">$<i>1</i>23,669.<i>1</i>6</div>
<div class="c" style="left:1520px;width:202px">$6,<i>7</i>48.30</div>
<div class="c" style="left:1722px;width:184px">$0.00</div>
<div class="c" style="left:1906px;width:228px">$<i>1</i>30,4<i>1</i><i>7</i>.46</div>
</div>
<div class="abs" style="left:0;top:197px;width:2134px;height:7px;background:#e2e2e2"></div>
<div class="row" style="top:204px"><div class="rn">1</div>
<div class="c l" style="left:98px;width:232px">Jan <i>1</i>3, 2025</div>
<div class="c" style="left:330px;width:322px">25</div>
<div class="c" style="left:652px;width:240px">$3,69<i>7</i>.23</div>
<div class="c" style="left:892px;width:218px">$66.24</div>
<div class="c" style="left:1110px;width:198px">$0.00</div>
<div class="c" style="left:1308px;width:212px">$3,630.99</div>
<div class="c" style="left:1520px;width:202px">$223.<i>7</i>5</div>
<div class="c" style="left:1722px;width:184px">$0.00</div>
<div class="c" style="left:1906px;width:228px">$3,854.<i>7</i>4</div>
</div>
<div class="row" style="top:276px"><div class="rn">2</div>
<div class="c l" style="left:98px;width:232px">Jan <i>1</i>4, 2025</div>
<div class="c" style="left:330px;width:322px">24</div>
<div class="c" style="left:652px;width:240px">$3,9<i>1</i>5.98</div>
<div class="c" style="left:892px;width:218px">$63.04</div>
<div class="c" style="left:1110px;width:198px">$0.00</div>
<div class="c" style="left:1308px;width:212px">$3,852.94</div>
<div class="c" style="left:1520px;width:202px">$2<i>1</i>4.80</div>
<div class="c" style="left:1722px;width:184px">$0.00</div>
<div class="c" style="left:1906px;width:228px">$4,06<i>7</i>.<i>7</i>4</div>
</div>
<div class="row" style="top:348px"><div class="rn">3</div>
<div class="c l" style="left:98px;width:232px">Jan <i>1</i>5, 2025</div>
<div class="c" style="left:330px;width:322px">23</div>
<div class="c" style="left:652px;width:240px">$3,8<i>7</i>9.99</div>
<div class="c" style="left:892px;width:218px">$8<i>1</i>.<i>7</i>2</div>
<div class="c" style="left:1110px;width:198px">$0.00</div>
<div class="c" style="left:1308px;width:212px">$3,<i>7</i>98.2<i>7</i></div>
<div class="c" style="left:1520px;width:202px">$205.85</div>
<div class="c" style="left:1722px;width:184px">$0.00</div>
<div class="c" style="left:1906px;width:228px">$4,004.<i>1</i>2</div>
</div>
<div class="row" style="top:420px"><div class="rn">4</div>
<div class="c l" style="left:98px;width:232px">Jan <i>1</i>6, 2025</div>
<div class="c" style="left:330px;width:322px">24</div>
<div class="c" style="left:652px;width:240px">$4,<i>1</i>44.00</div>
<div class="c" style="left:892px;width:218px">$4<i>1</i>.24</div>
<div class="c" style="left:1110px;width:198px">$0.00</div>
<div class="c" style="left:1308px;width:212px">$4,<i>1</i>02.<i>7</i>6</div>
<div class="c" style="left:1520px;width:202px">$2<i>1</i>4.80</div>
<div class="c" style="left:1722px;width:184px">$0.00</div>
<div class="c" style="left:1906px;width:228px">$4,3<i>1</i><i>7</i>.56</div>
</div>
<div class="row" style="top:492px"><div class="rn">5</div>
<div class="c l" style="left:98px;width:232px">Jan <i>1</i><i>7</i>, 2025</div>
<div class="c" style="left:330px;width:322px">29</div>
<div class="c" style="left:652px;width:240px">$4,<i>7</i>96.48</div>
<div class="c" style="left:892px;width:218px">$56.<i>7</i>4</div>
<div class="c" style="left:1110px;width:198px">$23<i>1</i>.00</div>
<div class="c" style="left:1308px;width:212px">$4,508.<i>7</i>4</div>
<div class="c" style="left:1520px;width:202px">$24<i>1</i>.65</div>
<div class="c" style="left:1722px;width:184px">$0.00</div>
<div class="c" style="left:1906px;width:228px">$4,<i>7</i>50.39</div>
</div>
<div class="row" style="top:564px"><div class="rn">6</div>
<div class="c l" style="left:98px;width:232px">Jan <i>1</i>8, 2025</div>
<div class="c" style="left:330px;width:322px">25</div>
<div class="c" style="left:652px;width:240px">$4,054.99</div>
<div class="c" style="left:892px;width:218px">$59.92</div>
<div class="c" style="left:1110px;width:198px">$0.00</div>
<div class="c" style="left:1308px;width:212px">$3,995.0<i>7</i></div>
<div class="c" style="left:1520px;width:202px">$223.<i>7</i>5</div>
<div class="c" style="left:1722px;width:184px">$0.00</div>
<div class="c" style="left:1906px;width:228px">$4,2<i>1</i>8.82</div>
</div>
<div class="row" style="top:636px"><div class="rn">7</div>
<div class="c l" style="left:98px;width:232px">Jan <i>1</i>9, 2025</div>
<div class="c" style="left:330px;width:322px"><i>1</i><i>1</i></div>
<div class="c" style="left:652px;width:240px">$<i>1</i>,98<i>1</i>.50</div>
<div class="c" style="left:892px;width:218px">$6.68</div>
<div class="c" style="left:1110px;width:198px">$0.00</div>
<div class="c" style="left:1308px;width:212px">$<i>1</i>,9<i>7</i>4.82</div>
<div class="c" style="left:1520px;width:202px">$98.45</div>
<div class="c" style="left:1722px;width:184px">$0.00</div>
<div class="c" style="left:1906px;width:228px">$2,0<i>7</i>3.2<i>7</i></div>
</div>
<div class="row" style="top:708px"><div class="rn">8</div>
<div class="c l" style="left:98px;width:232px">Jan 20, 2025</div>
<div class="c" style="left:330px;width:322px">24</div>
<div class="c" style="left:652px;width:240px">$4,<i>1</i>86.25</div>
<div class="c" style="left:892px;width:218px">$42.84</div>
<div class="c" style="left:1110px;width:198px">$0.00</div>
<div class="c" style="left:1308px;width:212px">$4,<i>1</i>43.4<i>1</i></div>
<div class="c" style="left:1520px;width:202px">$2<i>1</i>4.80</div>
<div class="c" style="left:1722px;width:184px">$0.00</div>
<div class="c" style="left:1906px;width:228px">$4,358.2<i>1</i></div>
</div>
<div class="row" style="top:780px"><div class="rn">9</div>
<div class="c l" style="left:98px;width:232px">Jan 2<i>1</i>, 2025</div>
<div class="c" style="left:330px;width:322px">23</div>
<div class="c" style="left:652px;width:240px">$3,<i>7</i><i>7</i>0.98</div>
<div class="c" style="left:892px;width:218px">$3<i>7</i>.08</div>
<div class="c" style="left:1110px;width:198px">$0.00</div>
<div class="c" style="left:1308px;width:212px">$3,<i>7</i>33.90</div>
<div class="c" style="left:1520px;width:202px">$205.85</div>
<div class="c" style="left:1722px;width:184px">$0.00</div>
<div class="c" style="left:1906px;width:228px">$3,939.<i>7</i>5</div>
</div>
<div class="row" style="top:852px"><div class="rn">10</div>
<div class="c l" style="left:98px;width:232px">Jan 22, 2025</div>
<div class="c" style="left:330px;width:322px">20</div>
<div class="c" style="left:652px;width:240px">$3,386.2<i>1</i></div>
<div class="c" style="left:892px;width:218px">$58.56</div>
<div class="c" style="left:1110px;width:198px">$0.00</div>
<div class="c" style="left:1308px;width:212px">$3,32<i>7</i>.65</div>
<div class="c" style="left:1520px;width:202px">$<i>1</i><i>7</i>9.00</div>
<div class="c" style="left:1722px;width:184px">$0.00</div>
<div class="c" style="left:1906px;width:228px">$3,506.65</div>
</div>
<div class="row" style="top:924px"><div class="rn">11</div>
<div class="c l" style="left:98px;width:232px">Jan 23, 2025</div>
<div class="c" style="left:330px;width:322px"><i>1</i>5</div>
<div class="c" style="left:652px;width:240px">$3,029.<i>7</i>5</div>
<div class="c" style="left:892px;width:218px">$63.<i>1</i>8</div>
<div class="c" style="left:1110px;width:198px">$0.00</div>
<div class="c" style="left:1308px;width:212px">$2,966.5<i>7</i></div>
<div class="c" style="left:1520px;width:202px">$<i>1</i>34.25</div>
<div class="c" style="left:1722px;width:184px">$0.00</div>
<div class="c" style="left:1906px;width:228px">$3,<i>1</i>00.82</div>
</div>
<div class="row" style="top:996px"><div class="rn">12</div>
<div class="c l" style="left:98px;width:232px">Jan 24, 2025</div>
<div class="c" style="left:330px;width:322px">24</div>
<div class="c" style="left:652px;width:240px">$4,<i>1</i>63.25</div>
<div class="c" style="left:892px;width:218px">$62.<i>7</i>3</div>
<div class="c" style="left:1110px;width:198px">$0.00</div>
<div class="c" style="left:1308px;width:212px">$4,<i>1</i>00.52</div>
<div class="c" style="left:1520px;width:202px">$2<i>1</i>4.80</div>
<div class="c" style="left:1722px;width:184px">$0.00</div>
<div class="c" style="left:1906px;width:228px">$4,3<i>1</i>5.32</div>
</div>
<div class="row" style="top:1068px"><div class="rn">13</div>
<div class="c l" style="left:98px;width:232px">Jan 25, 2025</div>
<div class="c" style="left:330px;width:322px">30</div>
<div class="c" style="left:652px;width:240px">$5,<i>1</i>6<i>1</i>.50</div>
<div class="c" style="left:892px;width:218px">$<i>7</i>0.<i>1</i>0</div>
<div class="c" style="left:1110px;width:198px">$0.00</div>
<div class="c" style="left:1308px;width:212px">$5,09<i>1</i>.40</div>
<div class="c" style="left:1520px;width:202px">$268.50</div>
<div class="c" style="left:1722px;width:184px">$0.00</div>
<div class="c" style="left:1906px;width:228px">$5,359.90</div>
</div>
<div class="abs" style="left:90px;top:0;width:8px;height:1100px;background:#e2e2e2"></div>
</div>
<div class="abs" style="left:2343px;top:112px;width:21px;height:196px;background:#f7f7f7"></div>
<div class="abs" style="left:2343px;top:308px;width:21px;height:8px;background:#e6e6e6"></div>
<div class="abs" style="left:2347px;top:318px;width:14px;height:398px;border-radius:7px;background:#dcdde1"></div>
<div class="abs" style="left:0;top:1186px;width:2344px;height:24px;background:#fff;border-top:2px solid #e6e6e6;border-bottom:2px solid #e6e6e6;border-right:2px solid #e6e6e6"></div>
<div class="abs" style="left:0;top:1188px;width:90px;height:20px;background:#f7f7f7"></div>
<div class="abs" style="left:90px;top:1187px;width:8px;height:21px;background:#e2e2e2"></div>
<div class="abs" style="left:56px;top:1237px;font-size:23.5px;line-height:40px;color:#303030;-webkit-text-stroke:.5px #303030"><span class="t " id="recs" style=";letter-spacing:1.511px">30 records</span></div>
<div class="abs" style="left:2364px;top:0;width:2px;height:1306px;background:#e6e6e6"></div>
<div class="abs" style="left:2380px;top:24px;width:64px;height:120px;border-radius:18px;background:#ededf1"></div>
<div class="abs" style="left:2383px;top:27px;width:58px;height:57px;border-radius:15px;background:#fff"></div>
<svg class="abs" style="left:2397px;top:42px" width="30" height="29" viewBox="0 0 30 29" ><path d="M1.500 1.500H28.500V27.500H1.500ZM1.500 10H28.500M1.500 19H28.500M10.500 1.500V27.500" fill="none" stroke="#1a1a1a" stroke-width="3.200"/></svg>
<svg class="abs" style="left:2396px;top:95px" width="32" height="34" viewBox="0 0 32 34" ><rect x="1" y="11" width="6.500" height="23" fill="#3d3d3d"/><rect x="12.700" y="0" width="6.500" height="34" fill="#3d3d3d"/><rect x="24.500" y="20" width="6.500" height="14" fill="#3d3d3d"/></svg>
<svg class="abs" style="left:2388.5px;top:199.5px" width="43" height="43" viewBox="0 0 20 20" ><path d="M8.700 2.600H11.300L11.800 4.700A5.600 5.600 0 0 1 13.300 5.600L15.400 5 16.700 7.200 15.100 8.700A5.600 5.600 0 0 1 15.100 11.300L16.700 12.800 15.400 15 13.300 14.400A5.600 5.600 0 0 1 11.800 15.300L11.300 17.400H8.700L8.200 15.300A5.600 5.600 0 0 1 6.700 14.400L4.600 15 3.300 12.800 4.900 11.300A5.600 5.600 0 0 1 4.900 8.700L3.300 7.200 4.600 5 6.700 5.600A5.600 5.600 0 0 1 8.200 4.700Z" fill="none" stroke="#6b6b6b" stroke-width="1.300" stroke-linejoin="round"/><circle cx="10" cy="10" r="2.700" fill="none" stroke="#6b6b6b" stroke-width="1.300"/></svg>
<svg class="abs" style="left:2394px;top:294px" width="32" height="34" viewBox="0 0 32 34" ><rect x="1" y="11" width="6.500" height="23" fill="#808080"/><rect x="12.700" y="0" width="6.500" height="34" fill="#808080"/><rect x="24.500" y="20" width="6.500" height="14" fill="#808080"/></svg>
<svg class="abs" style="left:2394px;top:384px" width="32" height="36" viewBox="0 0 32 36" ><rect x="1" y="1" width="23" height="9" rx="1.500" fill="#808080"/><path d="M24 5.500H29.500V15H13.500V20" fill="none" stroke="#808080" stroke-width="2"/><rect x="10.500" y="18" width="6.500" height="17" rx="1.500" fill="#808080"/></svg>
<svg class="abs" style="left:2394px;top:475px" width="32" height="34" viewBox="0 0 32 34" ><path d="M2 2H30L19.500 15.500V31L12.500 25.500V15.500Z" fill="none" stroke="#6b6b6b" stroke-width="2.600" stroke-linejoin="round"/></svg>
</div>
<div class="abs" style="left:0;top:0;width:2940px;height:80px;border-radius:22px 22px 0 0;box-shadow:inset 0 2px 0 #fcfcfc,inset 0 4px 1px rgba(0,0,0,.07)"></div>
</div>
</body></html>
